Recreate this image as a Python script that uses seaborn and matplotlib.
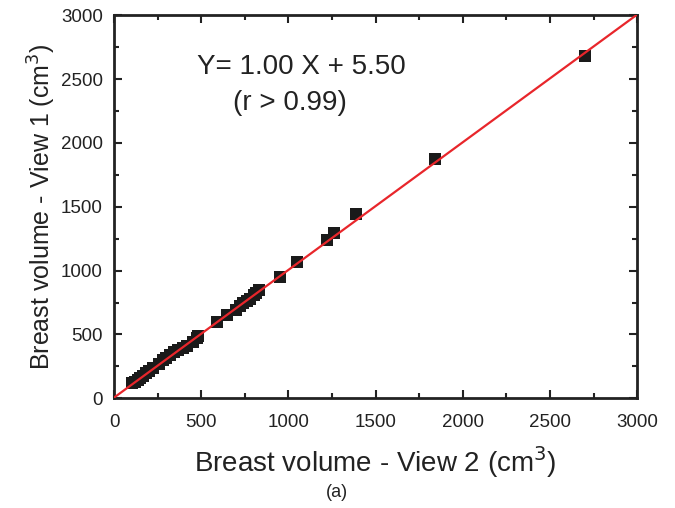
import numpy as np
import matplotlib
matplotlib.use("Agg")
import matplotlib.pyplot as plt
import seaborn as sns
import pandas as pd
from matplotlib.ticker import MultipleLocator

# volumes (cm^3)
view2 = [105, 120, 135, 150, 165, 185, 200, 225, 260, 280, 300, 320, 345, 365,
         395, 420, 450, 475, 480, 590, 650, 700, 720, 740, 760, 780, 800, 815,
         830, 950, 1050, 1220, 1260, 1390, 1840, 2700]
view1 = [120, 130, 145, 160, 175, 195, 215, 235, 270, 300, 315, 340, 360, 380,
         395, 410, 440, 470, 490, 595, 650, 690, 725, 745, 760, 775, 810, 825,
         845, 950, 1070, 1240, 1295, 1440, 1875, 2680]

slope = 1.00
intercept = 5.50

df = pd.DataFrame({"view2": view2, "view1": view1})

sns.set_style("ticks")
plt.rcParams["font.family"] = ["Liberation Sans", "DejaVu Sans"]

fig, ax = plt.subplots(figsize=(6.75, 5.08), dpi=100)
fig.subplots_adjust(left=0.169, right=0.944, top=0.970, bottom=0.216)

sns.scatterplot(data=df, x="view2", y="view1", marker="s", s=75,
                color="#1a1a1a", edgecolor="#1a1a1a", linewidth=0, ax=ax,
                zorder=2)

fit_x = np.array([0, 3000])
ax.plot(fit_x, slope * fit_x + intercept, color="#e8262b", lw=1.6, zorder=3)

ax.set_xlim(0, 3000)
ax.set_ylim(0, 3000)
ax.xaxis.set_major_locator(MultipleLocator(500))
ax.yaxis.set_major_locator(MultipleLocator(500))
ax.xaxis.set_minor_locator(MultipleLocator(250))
ax.yaxis.set_minor_locator(MultipleLocator(250))
ax.tick_params(which="both", direction="in", top=True, right=True,
               width=1.5, color="#222222", labelsize=13.5, labelcolor="#222222")
ax.tick_params(which="major", length=6)
ax.tick_params(axis="x", which="major", pad=11)
ax.tick_params(axis="y", which="major", pad=8)
ax.tick_params(which="minor", length=3.5)
for sp in ax.spines.values():
    sp.set_visible(True)
    sp.set_linewidth(2)
    sp.set_color("#222222")

ax.set_xlabel(r"Breast volume - View 2 (cm$^3$)", fontsize=20,
              color="#222222", labelpad=10)
ax.set_ylabel(r"Breast volume - View 1 (cm$^3$)", fontsize=18,
              color="#222222", labelpad=2)

ax.text(1073, 2592, "Y= 1.00 X + 5.50", fontsize=20, ha="center",
        va="center", color="#222222")
ax.text(1010, 2310, "(r > 0.99)", fontsize=20, ha="center", va="center",
        color="#222222")

fig.text(0.499, 0.030, "(a)", fontsize=13, ha="center", va="center",
         color="#222222")

fig.savefig("out.png", dpi=100, facecolor="white")
